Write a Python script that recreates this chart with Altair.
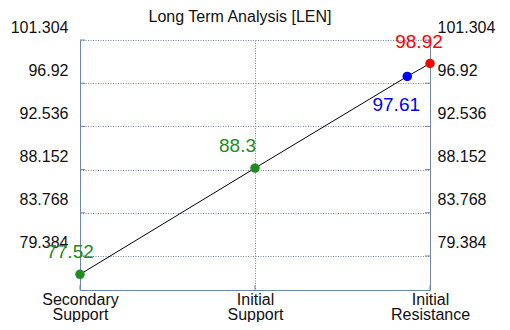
import altair as alt
import pandas as pd

title_text = "Long Term Analysis [LEN]"
categories = ["Secondary Support", "Initial Support", "Initial Resistance"]
cat_pos = [0, 1, 2]
point_pos = [0, 1, 1.87, 2]
point_values = [77.52, 88.3, 97.61, 98.92]
point_labels = ["77.52", "88.3", "97.61", "98.92"]
point_colors = ["#228b22", "#228b22", "#0000ff", "#ff0000"]
y_ticks = [79.384, 83.768, 88.152, 92.536, 96.92, 101.304]
y_domain = [75.93, 101.304]

# label offsets (dx, dy) per point label
label_offsets = [(-10, -22), (-17.5, -22), (-11, 29), (-11, -21)]

FONT = "Liberation Sans"
AX = "#7086ae"
DASH = [1, 1.5]
TXT = "#111111"

df = pd.DataFrame({"pos": point_pos, "value": point_values,
                   "label": point_labels, "color": point_colors})
ticks_df = pd.DataFrame({"tick": y_ticks})
cat_df = pd.DataFrame({"pos": cat_pos, "cat": categories})
one = pd.DataFrame({"t": [title_text]})

x_scale = alt.Scale(domain=[0, 2], nice=False, zero=False)
y_scale = alt.Scale(domain=y_domain, nice=False, zero=False)

parts = []
for p, c in zip(cat_pos, categories):
    a, b = c.split(" ", 1)
    parts.append(f"datum.value == {p} ? ['{a}', '{b}']")
label_expr = " : ".join(parts) + " : ''"

x_axis = alt.Axis(values=cat_pos, labelExpr=label_expr, grid=True, gridDash=DASH,
                  gridColor=AX, domainColor=AX, ticks=False, labelFontSize=16,
                  labelFont=FONT, labelColor=TXT, labelPadding=1,
                  labelLineHeight=15, title=None, labelAngle=0,
                  labelFlush=False, labelOverlap=False)

y_left = alt.Axis(values=y_ticks, orient="left", labelExpr="'' + datum.value",
                  grid=True, gridDash=DASH, gridColor=AX, domainColor=AX,
                  ticks=False, labelPadding=12, labelOffset=-13, labelFontSize=16,
                  labelFont=FONT, labelColor=TXT, title=None,
                  labelBaseline="middle", labelFlush=False, labelOverlap=False)
y_right = alt.Axis(values=y_ticks, orient="right", labelExpr="'' + datum.value",
                   grid=False, domainColor=AX, ticks=False, labelPadding=7,
                   labelOffset=-13, labelFontSize=16, labelFont=FONT,
                   labelColor=TXT, title=None, labelBaseline="middle",
                   labelFlush=False, labelOverlap=False)

base = alt.Chart(df)

line = base.mark_line(color="black", strokeWidth=1).encode(
    x=alt.X("pos:Q", scale=x_scale, axis=x_axis),
    y=alt.Y("value:Q", scale=y_scale, axis=y_left),
)

right_axis_layer = base.mark_point(opacity=0).encode(
    x=alt.X("pos:Q", scale=x_scale),
    y=alt.Y("value:Q", scale=y_scale, axis=y_right),
)

pts = base.mark_circle(size=90, opacity=1).encode(
    x=alt.X("pos:Q", scale=x_scale),
    y=alt.Y("value:Q", scale=y_scale, axis=None),
    color=alt.Color("color:N", scale=None),
)

left_ticks = alt.Chart(ticks_df).mark_rule(color=AX, strokeWidth=1).encode(
    y=alt.Y("tick:Q", scale=y_scale, axis=None), x=alt.value(0), x2=alt.value(5))
right_ticks = alt.Chart(ticks_df).mark_rule(color=AX, strokeWidth=1).encode(
    y=alt.Y("tick:Q", scale=y_scale, axis=None), x=alt.value(345), x2=alt.value(350))
bottom_ticks = alt.Chart(cat_df).mark_rule(color=AX, strokeWidth=1).encode(
    x=alt.X("pos:Q", scale=x_scale), y=alt.value(250), y2=alt.value(245))

labels = []
for lab, col, (dx, dy) in zip(point_labels, point_colors, label_offsets):
    labels.append(
        base.transform_filter(alt.datum.label == lab).mark_text(
            dx=dx, dy=dy, fontSize=19, font=FONT, color=col,
            align="center", baseline="middle"
        ).encode(
            x=alt.X("pos:Q", scale=x_scale),
            y=alt.Y("value:Q", scale=y_scale, axis=None),
            text="label:N",
        )
    )

title = alt.Chart(one).mark_text(fontSize=16, font=FONT, color=TXT,
                                 align="center", baseline="alphabetic").encode(
    x=alt.value(160), y=alt.value(-18), text="t:N")

chart = alt.layer(
    line, right_axis_layer, left_ticks, right_ticks, bottom_ticks, pts,
    *labels, title
).properties(
    width=350, height=250,
    autosize=alt.AutoSizeParams(type="none"),
    padding={"left": 72, "top": 32, "right": 72, "bottom": 32},
    background="white",
).configure_view(stroke=None)

chart.save("out.html", embed_options={"renderer": "svg", "actions": False})
